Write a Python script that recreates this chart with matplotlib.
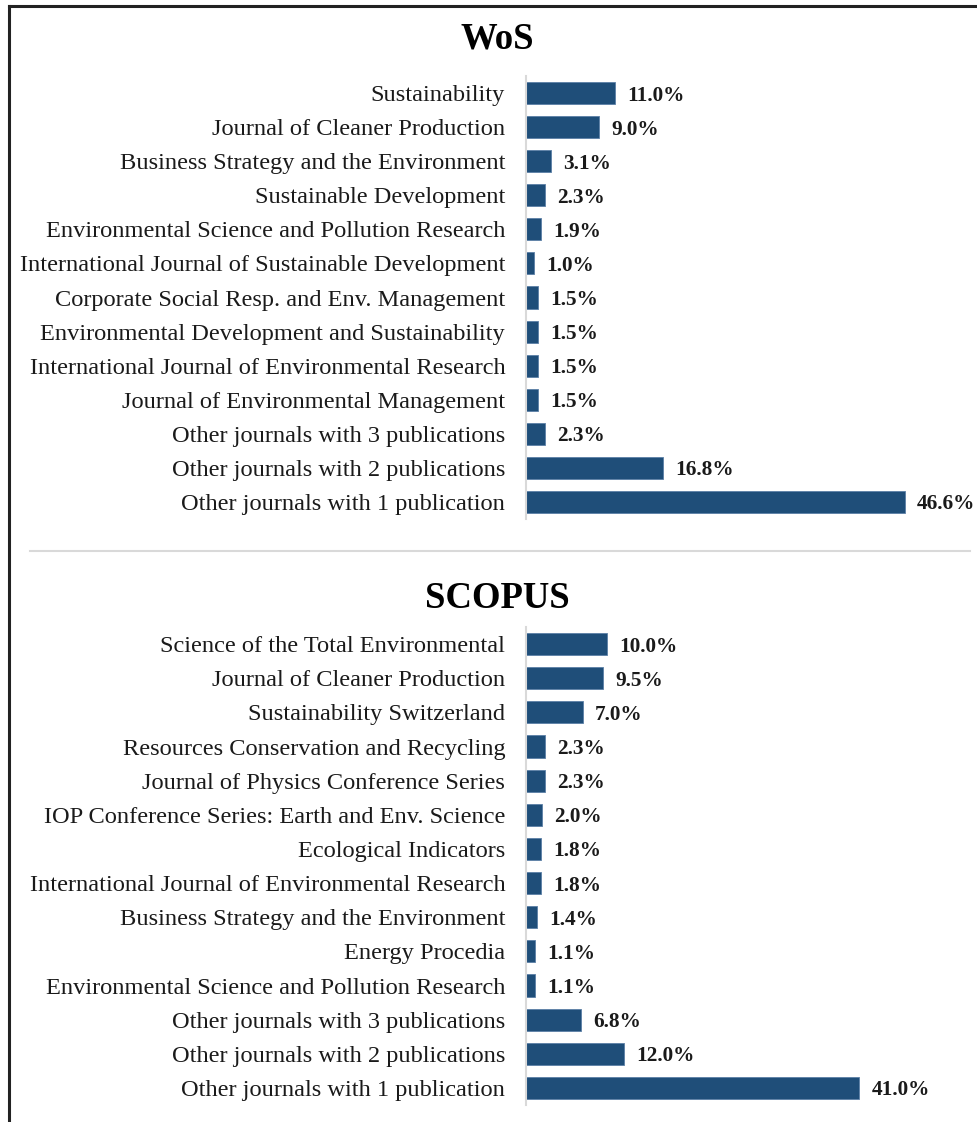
import matplotlib
matplotlib.use('Agg')
import matplotlib.pyplot as plt
from matplotlib.lines import Line2D

# WoS data (top to bottom)
wos_journals = [
    'Sustainability',
    'Journal of Cleaner Production',
    'Business Strategy and the Environment',
    'Sustainable Development',
    'Environmental Science and Pollution Research',
    'International Journal of Sustainable Development',
    'Corporate Social Resp. and Env. Management',
    'Environmental Development and Sustainability',
    'International Journal of Environmental Research',
    'Journal of Environmental Management',
    'Other journals with 3 publications',
    'Other journals with 2 publications',
    'Other journals with 1 publication',
]
wos_share = [11.0, 9.0, 3.1, 2.3, 1.9, 1.0, 1.5, 1.5, 1.5, 1.5, 2.3, 16.8, 46.6]

# SCOPUS data (top to bottom)
scopus_journals = [
    'Science of the Total Environmental',
    'Journal of Cleaner Production',
    'Sustainability Switzerland',
    'Resources Conservation and Recycling',
    'Journal of Physics Conference Series',
    'IOP Conference Series: Earth and Env. Science',
    'Ecological Indicators',
    'International Journal of Environmental Research',
    'Business Strategy and the Environment',
    'Energy Procedia',
    'Environmental Science and Pollution Research',
    'Other journals with 3 publications',
    'Other journals with 2 publications',
    'Other journals with 1 publication',
]
scopus_share = [10.0, 9.5, 7.0, 2.3, 2.3, 2.0, 1.8, 1.8, 1.4, 1.1, 1.1, 6.8, 12.0, 41.0]

BAR_COLOR = '#1f4e79'
W, H = 978, 1122
plt.rcParams['font.family'] = ['Liberation Serif', 'DejaVu Serif']

fig = plt.figure(figsize=(W / 100, H / 100), dpi=100)


def panel(top_px, bottom_px, names, values, title, title_y):
    left = 526 / W
    width = 50 * 8.13 / W
    ax = fig.add_axes([left, 1 - bottom_px / H, width, (bottom_px - top_px) / H])
    pos = list(range(len(names)))
    ax.barh(pos, values, height=0.65, color=BAR_COLOR, edgecolor='#5b7fa6', linewidth=0.6)
    for p, v in zip(pos, values):
        ax.text(v + 1.5, p, f'{v:.1f}%', va='center_baseline', ha='left',
                fontsize=15.3, fontweight='bold', color='#1a1a1a')
    ax.set_yticks(pos)
    ax.set_yticklabels(names, fontsize=17.6, color='#1a1a1a')
    ax.set_ylim(len(names) - 0.5, -0.5)
    ax.set_xlim(0, 50)
    ax.set_xticks([])
    ax.tick_params(axis='y', length=0, pad=15)
    for s in ['top', 'right', 'bottom']:
        ax.spines[s].set_visible(False)
    ax.spines['left'].set_color('#d9d9d9')
    ax.spines['left'].set_linewidth(1.5)
    fig.text(497 / W, 1 - title_y / H, title, ha='center', va='center_baseline',
             fontsize=26.5, fontweight='bold')
    return ax


panel(76, 519, wos_journals, wos_share, 'WoS', 35)
panel(627, 1105, scopus_journals, scopus_share, 'SCOPUS', 594)

# separator line between panels
fig.add_artist(Line2D([30 / W, 970 / W], [1 - 551 / H, 1 - 551 / H],
                      color='#d9d9d9', linewidth=1.5))
# frame lines on the top and left edges
fig.add_artist(Line2D([8.5 / W, 1], [1 - 6 / H, 1 - 6 / H], color='#222222', linewidth=2.2))
fig.add_artist(Line2D([8.5 / W, 8.5 / W], [0, 1 - 6 / H], color='#222222', linewidth=2.2))

fig.savefig('out.png', dpi=100, facecolor='white')
